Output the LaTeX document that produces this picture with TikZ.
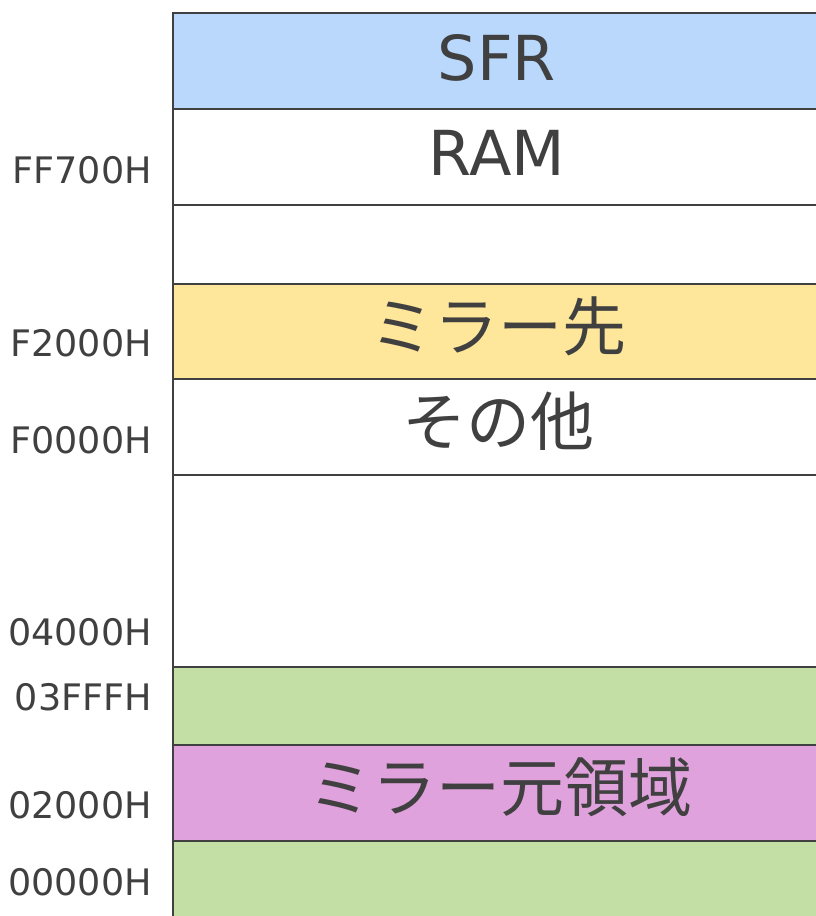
\documentclass[tikz,border=0pt]{standalone}
\usepackage{fontspec}
\setmainfont{DejaVu Sans}
\newfontfamily\jp{Noto Sans CJK JP}
\definecolor{linec}{HTML}{404040}
\definecolor{textc}{HTML}{404040}
\definecolor{sfrc}{HTML}{B9D8FC}
\definecolor{yelc}{HTML}{FEE69A}
\definecolor{grnc}{HTML}{C4DFA6}
\definecolor{purc}{HTML}{E0A2DD}
\tikzset{
  membox/.style={draw=linec, line width=2.4pt, anchor=north west, minimum width=649pt,
    inner sep=0pt, outer sep=0pt},
  lattxt/.style={text=textc, font=\fontsize{62}{70}\selectfont, anchor=base},
  jptxt/.style={text=textc, font=\fontsize{64}{72}\selectfont\jp},
  addr/.style={anchor=east, inner sep=0pt, text=textc, font=\fontsize{36.5}{40}\selectfont}
}
\begin{document}
\begin{tikzpicture}[x=1pt,y=-1pt]
\clip (0,0) rectangle (816,916);
\fill[white] (0,0) rectangle (816,916);
\node[membox, fill=sfrc, minimum height=96pt] (sfr) at (173,13) {};
\node[membox, fill=white, minimum height=96pt] (ram) at (173,109) {};
\node[membox, fill=white, minimum height=79pt] (gap1) at (173,205) {};
\node[membox, fill=yelc, minimum height=95pt] (mirdst) at (173,284) {};
\node[membox, fill=white, minimum height=96pt] (other) at (173,379) {};
\node[membox, fill=white, minimum height=192pt] (gap2) at (173,475) {};
\node[membox, fill=grnc, minimum height=78pt] (g1) at (173,667) {};
\node[membox, fill=purc, minimum height=96pt] (mirsrc) at (173,745) {};
\node[membox, fill=grnc, minimum height=100pt] (g2) at (173,841) {};
% box texts
\node[lattxt] (tsfr) at (497,80) {SFR};
\node[lattxt] (tram) at (497,175) {RAM};
\node[jptxt] (tdst) at (498,326) {ミラー先};
\node[jptxt] (toth) at (498,421) {その他};
\node[jptxt] (tsrc) at (500,787) {ミラー元領域};
% address labels
\node[addr] (a1) at (152,170) {FF700H};
\node[addr] (a2) at (152,343) {F2000H};
\node[addr] (a3) at (152,440) {F0000H};
\node[addr] (a4) at (152,632) {04000H};
\node[addr] (a5) at (152,697) {03FFFH};
\node[addr] (a6) at (152,805) {02000H};
\node[addr] (a7) at (152,882) {00000H};
\end{tikzpicture}
\end{document}
